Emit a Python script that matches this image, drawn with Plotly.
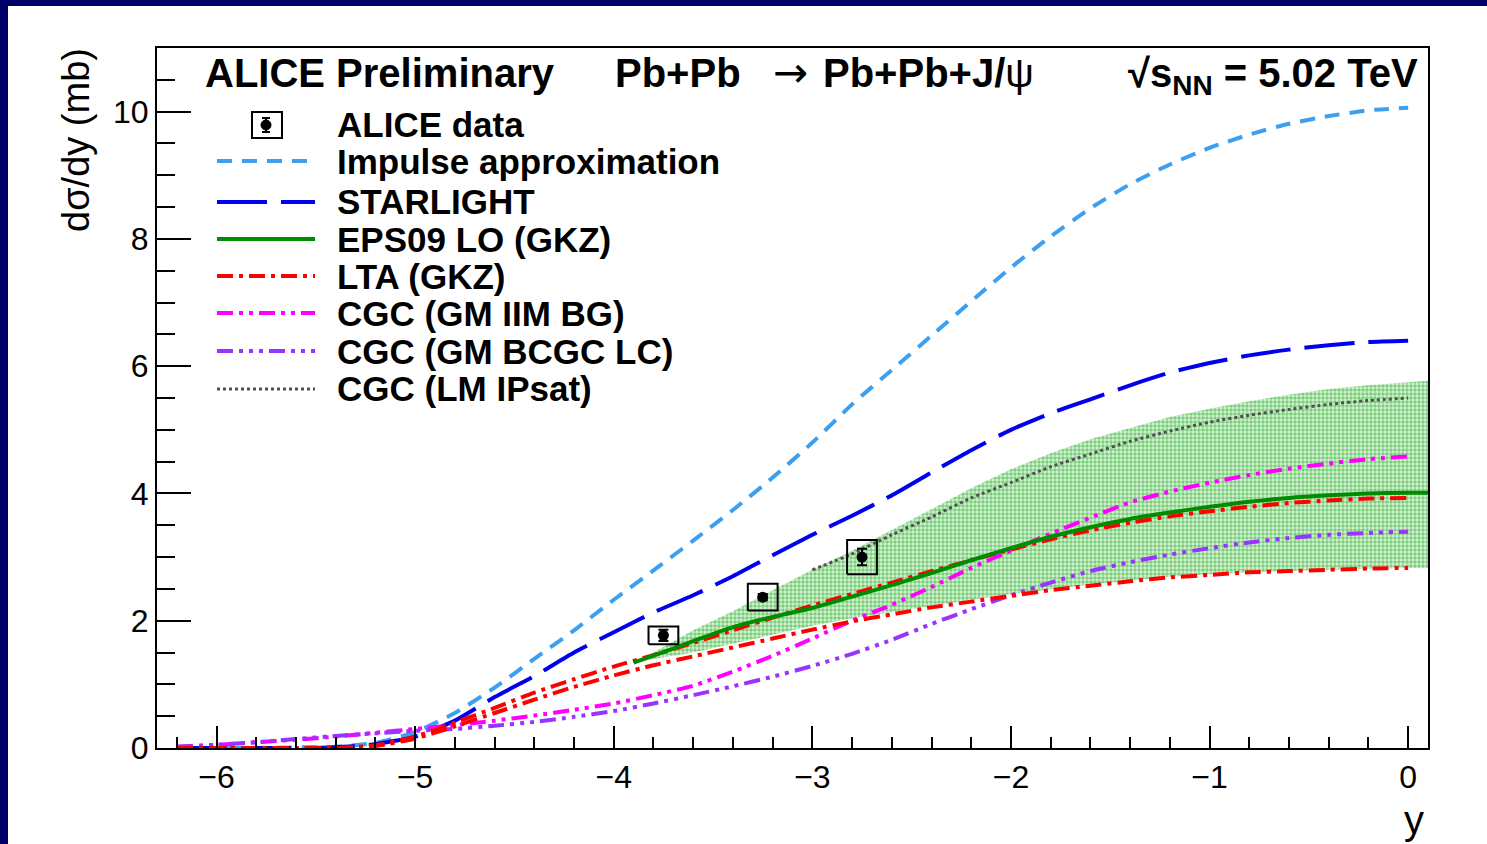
import plotly.graph_objects as go

# ---------------- data ----------------
x_full = [-6.2, -6.0, -5.8, -5.6, -5.4, -5.2, -5.0, -4.8, -4.6, -4.4, -4.2, -4.0,
          -3.8, -3.6, -3.4, -3.2, -3.0, -2.8, -2.6, -2.4, -2.2, -2.0, -1.8, -1.6,
          -1.4, -1.2, -1.0, -0.8, -0.6, -0.4, -0.2, 0.0]

impulse = [0.0, 0.0, 0.0, 0.01, 0.02, 0.08, 0.25, 0.55, 0.95, 1.4, 1.85, 2.33,
           2.79, 3.26, 3.74, 4.25, 4.8, 5.4, 5.94, 6.48, 7.02, 7.55, 8.04, 8.48,
           8.86, 9.17, 9.43, 9.64, 9.81, 9.93, 10.02, 10.06]

starlight = [0.0, 0.0, 0.0, 0.0, 0.01, 0.06, 0.18, 0.43, 0.8, 1.13, 1.5, 1.82,
             2.13, 2.4, 2.7, 3.03, 3.35, 3.65, 3.97, 4.33, 4.68, 5.0, 5.26, 5.48,
             5.7, 5.9, 6.05, 6.17, 6.26, 6.33, 6.38, 6.40]

lta_hi = [0.0, 0.0, 0.0, 0.0, 0.0, 0.04, 0.18, 0.4, 0.63, 0.87, 1.08, 1.28,
          1.46, 1.65, 1.85, 2.05, 2.24, 2.42, 2.6, 2.78, 2.95, 3.12, 3.28, 3.42,
          3.54, 3.64, 3.72, 3.79, 3.85, 3.89, 3.92, 3.93]

lta_lo = [0.0, 0.0, 0.0, 0.0, 0.0, 0.03, 0.15, 0.34, 0.55, 0.76, 0.96, 1.14,
          1.3, 1.44, 1.58, 1.72, 1.86, 1.99, 2.1, 2.21, 2.3, 2.39, 2.48, 2.55,
          2.62, 2.68, 2.72, 2.76, 2.78, 2.8, 2.82, 2.83]

cgc_iim = [0.02, 0.05, 0.09, 0.13, 0.18, 0.24, 0.3, 0.36, 0.43, 0.51, 0.6, 0.7,
           0.83, 0.98, 1.2, 1.45, 1.72, 2.0, 2.25, 2.53, 2.83, 3.1, 3.37, 3.62,
           3.86, 4.03, 4.17, 4.29, 4.39, 4.47, 4.54, 4.58]

cgc_bcgc = [0.02, 0.05, 0.09, 0.14, 0.19, 0.23, 0.27, 0.3, 0.35, 0.41, 0.49, 0.58,
            0.7, 0.83, 0.97, 1.12, 1.29, 1.48, 1.7, 1.95, 2.18, 2.4, 2.6, 2.78,
            2.92, 3.04, 3.14, 3.23, 3.3, 3.35, 3.38, 3.40]

x_ipsat = [-3.0, -2.8, -2.6, -2.4, -2.2, -2.0, -1.8, -1.6, -1.4, -1.2, -1.0,
           -0.8, -0.6, -0.4, -0.2, 0.0]
cgc_ipsat = [2.8, 3.05, 3.35, 3.63, 3.93, 4.17, 4.42, 4.62, 4.82, 4.98, 5.12,
             5.23, 5.32, 5.4, 5.46, 5.5]

x_eps = [-3.9, -3.8, -3.6, -3.4, -3.2, -3.0, -2.8, -2.6, -2.4, -2.2, -2.0, -1.8,
         -1.6, -1.4, -1.2, -1.0, -0.8, -0.6, -0.4, -0.2, 0.0, 0.1]
eps09 = [1.34, 1.45, 1.68, 1.9, 2.06, 2.2, 2.38, 2.56, 2.75, 2.95, 3.14, 3.32,
         3.47, 3.6, 3.7, 3.79, 3.87, 3.93, 3.97, 4.0, 4.01, 4.01]
eps09_hi = [1.34, 1.5, 1.85, 2.15, 2.48, 2.8, 3.1, 3.42, 3.75, 4.08, 4.38, 4.63,
            4.85, 5.03, 5.2, 5.33, 5.45, 5.55, 5.64, 5.7, 5.75, 5.77]
eps09_lo = [1.34, 1.4, 1.5, 1.64, 1.79, 1.92, 2.04, 2.14, 2.24, 2.33, 2.42, 2.5,
            2.57, 2.63, 2.69, 2.73, 2.76, 2.78, 2.8, 2.82, 2.83, 2.83]

alice_y = [-3.75, -3.25, -2.75]
alice_val = [1.77, 2.37, 3.0]
alice_stat = [0.09, 0.05, 0.13]
alice_sys = [0.14, 0.21, 0.27]
box_halfwidth = 0.075

legend_labels = ["ALICE data", "Impulse approximation", "STARLIGHT", "EPS09 LO (GKZ)",
                 "LTA (GKZ)", "CGC (GM IIM BG)", "CGC (GM BCGC LC)", "CGC (LM IPsat)"]

# ---------------- styles ----------------
C_IMP = "#3d9ff0"
C_STAR = "#0000ee"
C_EPS = "#008c00"
C_LTA = "#ff0000"
C_IIM = "#ff00ff"
C_BCGC = "#9933ff"
C_IPS = "#505050"
D_IMP = "15px,10px"
D_STAR = "50px,14px"
D_LTA = "16px,6px,4px,6px"
D_IIM = "16px,6px,4px,6px,4px,6px"
D_BCGC = "16px,6px,4px,6px,4px,6px,4px,6px"
D_IPS = "3px,3px"
FONT = "Liberation Sans, Arial, Helvetica, sans-serif"

W, H = 1487, 844
L, R, T, B = 157, 59, 48, 96
PW = W - L - R
PH = H - T - B


def pxx(p):
    return (p - L) / PW


def pxy(p):
    return (H - B - p) / PH


fig = go.Figure()

# EPS09 uncertainty band
fig.add_trace(go.Scatter(x=x_eps, y=eps09_lo, mode="lines", line=dict(width=0),
                         showlegend=False, hoverinfo="skip"))
fig.add_trace(go.Scatter(x=x_eps, y=eps09_hi, mode="lines", line=dict(width=0),
                         fill="tonexty", fillcolor="rgba(0,0,0,0)",
                         fillpattern=dict(shape=".", fgcolor="#1faa1f", bgcolor="#d8f2d8",
                                          size=4, solidity=0.6),
                         showlegend=False, hoverinfo="skip"))

curves = [
    (x_full, impulse, C_IMP, D_IMP, 4),
    (x_full, starlight, C_STAR, D_STAR, 4),
    (x_ipsat, cgc_ipsat, C_IPS, D_IPS, 3),
    (x_full, cgc_iim, C_IIM, D_IIM, 4),
    (x_full, cgc_bcgc, C_BCGC, D_BCGC, 4),
    (x_full, lta_hi, C_LTA, D_LTA, 4),
    (x_full, lta_lo, C_LTA, D_LTA, 4),
    (x_eps, eps09, C_EPS, "solid", 4),
]
for xs, ys, col, dash, w in curves:
    fig.add_trace(go.Scatter(x=xs, y=ys, mode="lines", line=dict(color=col, dash=dash, width=w,
                                                                 shape="spline", smoothing=0.6),
                             showlegend=False))

# systematic boxes
bx, by = [], []
for xv, yv, s in zip(alice_y, alice_val, alice_sys):
    bx += [xv - box_halfwidth, xv + box_halfwidth, xv + box_halfwidth, xv - box_halfwidth,
           xv - box_halfwidth, None]
    by += [yv - s, yv - s, yv + s, yv + s, yv - s, None]
fig.add_trace(go.Scatter(x=bx, y=by, mode="lines", line=dict(color="black", width=2),
                         showlegend=False))
fig.add_trace(go.Scatter(x=alice_y, y=alice_val, mode="markers",
                         marker=dict(color="black", size=11),
                         error_y=dict(type="data", array=alice_stat, color="black",
                                      thickness=2, width=5),
                         showlegend=False))

shapes = []
# navy border strips (top and left)
shapes.append(dict(type="rect", xref="paper", yref="paper", x0=pxx(0), x1=pxx(W),
                   y0=pxy(6), y1=pxy(0), fillcolor="#000068", line=dict(width=0)))
shapes.append(dict(type="rect", xref="paper", yref="paper", x0=pxx(0), x1=pxx(8),
                   y0=pxy(H), y1=pxy(0), fillcolor="#000068", line=dict(width=0)))

# manual legend
rows = [125, 161, 202, 239, 276, 313, 351, 389]
leg_styles = [None, (C_IMP, D_IMP, 4), (C_STAR, D_STAR, 4), (C_EPS, "solid", 4),
              (C_LTA, D_LTA, 4), (C_IIM, D_IIM, 4), (C_BCGC, D_BCGC, 4), (C_IPS, D_IPS, 3)]
annotations = []
for lab, row, sty in zip(legend_labels, rows, leg_styles):
    if sty is None:
        shapes.append(dict(type="rect", xref="paper", yref="paper", x0=pxx(252), x1=pxx(282),
                           y0=pxy(138), y1=pxy(112), line=dict(color="black", width=2)))
        shapes.append(dict(type="circle", xref="paper", yref="paper", x0=pxx(261), x1=pxx(271),
                           y0=pxy(130), y1=pxy(120), fillcolor="black",
                           line=dict(color="black", width=1)))
        shapes.append(dict(type="line", xref="paper", yref="paper", x0=pxx(266), x1=pxx(266),
                           y0=pxy(132), y1=pxy(118), line=dict(color="black", width=2)))
        for cy in (118, 132):
            shapes.append(dict(type="line", xref="paper", yref="paper", x0=pxx(262), x1=pxx(270),
                               y0=pxy(cy), y1=pxy(cy), line=dict(color="black", width=2)))
    else:
        col, dash, w = sty
        shapes.append(dict(type="line", xref="paper", yref="paper", x0=pxx(217), x1=pxx(315),
                           y0=pxy(row), y1=pxy(row), line=dict(color=col, dash=dash, width=w)))
    annotations.append(dict(text="<b>" + lab + "</b>", xref="paper", yref="paper",
                            x=pxx(335), y=pxy(row), xanchor="left", yanchor="middle",
                            showarrow=False, font=dict(family=FONT, size=35, color="black")))

# header
hdr_font = dict(family=FONT, size=40, color="black")
annotations.append(dict(text="<b>ALICE Preliminary</b>", xref="paper", yref="paper",
                        x=pxx(203), y=pxy(73), xanchor="left", yanchor="middle",
                        showarrow=False, font=hdr_font))
annotations.append(dict(text="<b>Pb+Pb</b>", xref="paper", yref="paper",
                        x=pxx(613), y=pxy(73), xanchor="left", yanchor="middle",
                        showarrow=False, font=hdr_font))
annotations.append(dict(text="→", xref="paper", yref="paper",
                        x=pxx(790), y=pxy(73), xanchor="center", yanchor="middle",
                        showarrow=False, font=dict(family="DejaVu Sans", size=42, color="black")))
annotations.append(dict(text="<b>Pb+Pb+J/</b>ψ", xref="paper", yref="paper",
                        x=pxx(821), y=pxy(73), xanchor="left", yanchor="middle",
                        showarrow=False, font=hdr_font))
annotations.append(dict(text="<b>√s<sub>NN</sub> = 5.02 TeV</b>", xref="paper", yref="paper",
                        x=pxx(1420), y=pxy(76), xanchor="right", yanchor="middle",
                        showarrow=False, font=hdr_font))

# axis titles
annotations.append(dict(text="dσ/dy (mb)", xref="paper", yref="paper",
                        x=pxx(76), y=pxy(46), xanchor="center", yanchor="top", textangle=-90,
                        showarrow=False, font=dict(family=FONT, size=38, color="black")))
annotations.append(dict(text="y", xref="paper", yref="paper",
                        x=pxx(1426), y=pxy(820), xanchor="right", yanchor="middle",
                        showarrow=False, font=dict(family=FONT, size=40, color="black")))

fig.update_layout(
    width=W, height=H, autosize=False,
    margin=dict(l=L, r=R, t=T, b=B, pad=0),
    paper_bgcolor="white", plot_bgcolor="white",
    showlegend=False,
    shapes=shapes, annotations=annotations,
    font=dict(family=FONT, color="black"),
)
fig.update_xaxes(range=[-6.3, 0.1], tick0=0, dtick=1, ticks="inside", ticklen=22,
                 tickwidth=2, tickcolor="black", showgrid=False, zeroline=False,
                 showline=True, linecolor="black", linewidth=2, mirror=True,
                 tickfont=dict(family=FONT, size=32, color="black"),
                 minor=dict(dtick=0.2, tick0=0, ticks="inside", ticklen=11, tickwidth=2,
                            tickcolor="black", showgrid=False))
fig.update_yaxes(range=[0, 11], tick0=0, dtick=2, ticks="inside", ticklen=34,
                 tickwidth=2, tickcolor="black", showgrid=False, zeroline=False,
                 showline=True, linecolor="black", linewidth=2, mirror=True,
                 tickfont=dict(family=FONT, size=32, color="black"),
                 minor=dict(dtick=0.5, tick0=0, ticks="inside", ticklen=18, tickwidth=2,
                            tickcolor="black", showgrid=False))

fig.write_html("out.html")
